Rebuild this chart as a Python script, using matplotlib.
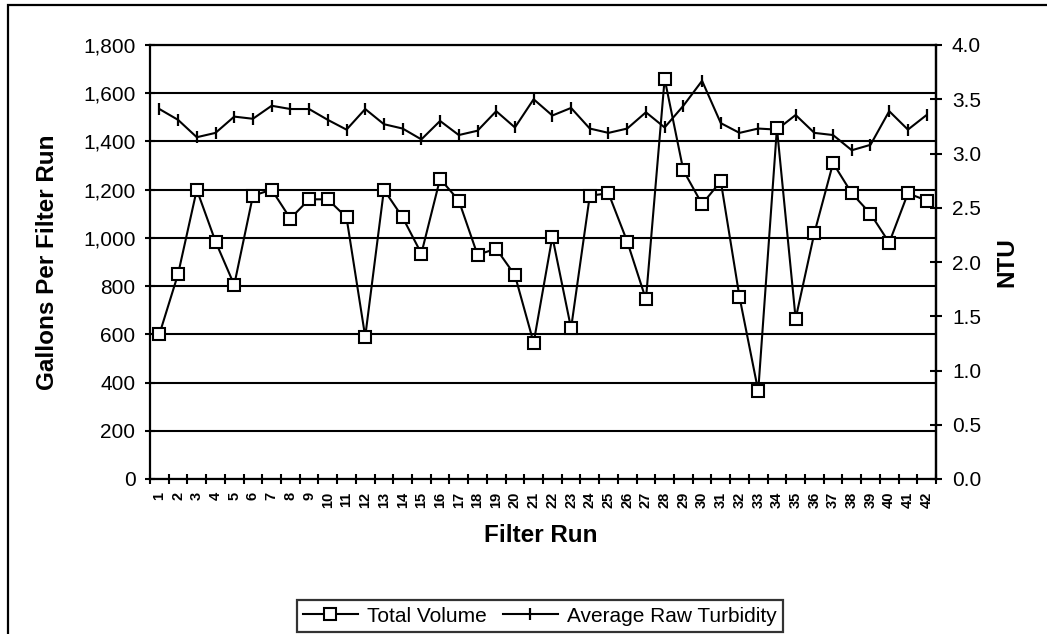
import matplotlib
matplotlib.use('Agg')
import numpy as np
import matplotlib.pyplot as plt
import matplotlib.patches as mpatches
from matplotlib.lines import Line2D
from matplotlib.ticker import FuncFormatter, MultipleLocator, FixedLocator

runs = list(range(1, 43))
volume = [600, 850, 1200, 985, 805, 1175, 1200, 1080, 1160, 1160,
          1085, 590, 1200, 1085, 935, 1245, 1155, 930, 955, 845,
          565, 1005, 625, 1175, 1185, 985, 745, 1660, 1280, 1140,
          1235, 755, 365, 1455, 665, 1020, 1310, 1185, 1100, 980,
          1185, 1155]
turbidity = [3.41, 3.31, 3.15, 3.19, 3.34, 3.32, 3.44, 3.41, 3.41, 3.31,
             3.22, 3.41, 3.27, 3.23, 3.13, 3.30, 3.17, 3.21, 3.39, 3.24,
             3.50, 3.35, 3.42, 3.23, 3.19, 3.23, 3.38, 3.24, 3.44, 3.67,
             3.28, 3.19, 3.23, 3.22, 3.355, 3.19, 3.17, 3.03, 3.08, 3.39,
             3.22, 3.355]

plt.rcParams['font.family'] = ['Liberation Sans', 'DejaVu Sans']

W, H = 1047, 634
fig = plt.figure(figsize=(W / 100, H / 100), dpi=100)
left, right, top, bottom = 150, 936, 45, 479
ax = fig.add_axes([left / W, 1 - bottom / H, (right - left) / W, (bottom - top) / H])
ax2 = ax.twinx()

# outer chart frame (runs off the right and bottom of the picture)
fig.patches.append(mpatches.Rectangle((8 / W, -0.1), 2, 1 - 5 / H + 0.1, transform=fig.transFigure,
                                      fill=False, edgecolor='black', linewidth=1.6))

lw = 1.5
ax2.plot(runs, turbidity, color='black', linewidth=lw, marker='|', markersize=9,
         markeredgewidth=1.6, zorder=2)
ax.plot(runs, volume, color='black', linewidth=lw, marker='s', markersize=9,
        markerfacecolor='white', markeredgecolor='black', markeredgewidth=1.5, zorder=3)
ax.set_zorder(ax2.get_zorder() + 1)
ax.patch.set_visible(False)

ax.set_xlim(0.5, 42.5)
ax.set_ylim(0, 1800)
ax2.set_ylim(0, 4.0)

ax.yaxis.set_major_locator(MultipleLocator(200))
ax.yaxis.set_major_formatter(FuncFormatter(lambda v, p: '{:,}'.format(int(v))))
ax2.yaxis.set_major_locator(MultipleLocator(0.5))
ax2.yaxis.set_major_formatter(FuncFormatter(lambda v, p: '%.1f' % v))

ax.xaxis.set_major_locator(FixedLocator(np.arange(0.5, 43, 1.0)))
ax.xaxis.set_major_formatter(FuncFormatter(lambda v, p: ''))
ax.set_xticks(runs, [str(r) for r in runs], minor=True)
ax.tick_params(axis='x', which='minor', length=0, pad=9, labelsize=10.5, labelrotation=90)
for lab in ax.get_xticklabels(minor=True):
    lab.set_fontweight('bold')
ax.tick_params(axis='x', which='major', direction='inout', length=7, width=1.5)
ax.tick_params(axis='y', direction='inout', length=7, width=1.5, labelsize=15, pad=7)
ax2.tick_params(axis='y', direction='inout', length=9, width=1.5, labelsize=15, pad=7)

ax.grid(axis='y', color='black', linewidth=1.5)
ax.set_axisbelow(True)

for s in ['left', 'bottom', 'right', 'top']:
    ax.spines[s].set_linewidth(1.6)
    ax2.spines[s].set_linewidth(1.6)
ax2.spines['left'].set_visible(False)
ax2.spines['bottom'].set_visible(False)
ax2.spines['top'].set_visible(False)

titleSize = 17.5
fig.text(48 / W, 1 - 262 / H, 'Gallons Per Filter Run', rotation=90, ha='center', va='center',
         fontsize=titleSize, fontweight='bold')
fig.text(1007 / W, 1 - 262 / H, 'NTU', rotation=90, ha='center', va='center',
         fontsize=titleSize, fontweight='bold')
fig.text(541 / W, 1 - 536 / H, 'Filter Run', ha='center', va='center',
         fontsize=titleSize, fontweight='bold')

handles = [Line2D([], [], color='black', linewidth=lw, marker='s', markersize=9,
                  markerfacecolor='white', markeredgewidth=1.5),
           Line2D([], [], color='black', linewidth=lw, marker='|', markersize=9, markeredgewidth=1.6)]
leg = fig.legend(handles, ['Total Volume', 'Average Raw Turbidity'], loc='center',
                 bbox_to_anchor=(540 / W, 1 - 616 / H), ncol=2, fontsize=15, frameon=True,
                 fancybox=False, edgecolor='black', handlelength=2.6, handletextpad=0.45,
                 columnspacing=0.8, borderpad=0.3, borderaxespad=0)
leg.get_frame().set_linewidth(1.6)

fig.savefig('out.png', dpi=100)
